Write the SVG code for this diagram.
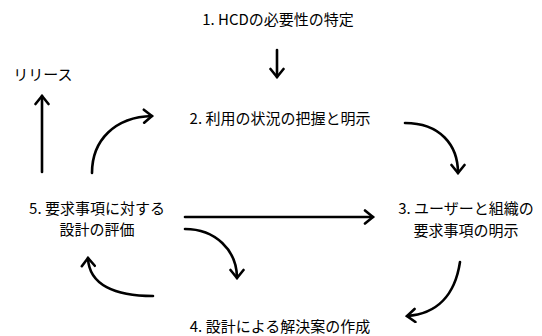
<svg xmlns="http://www.w3.org/2000/svg" width="542" height="336" viewBox="0 0 542 336">
<style>
text{font-family:"Noto Sans CJK JP","Noto Sans",sans-serif;font-size:15px;fill:#000;text-anchor:middle;dominant-baseline:central}
.c{fill:none;stroke:#000;stroke-width:2.6;stroke-linecap:round}
</style>
<defs>
<marker id="ah" viewBox="-10 -8 12 16" markerWidth="12" markerHeight="16" refX="0" refY="0" orient="auto" markerUnits="userSpaceOnUse">
<path d="M-8,-6.5 L0,0 L-8,6.5" fill="none" stroke="#000" stroke-width="2.6" stroke-linecap="round" stroke-linejoin="miter"/>
</marker>
</defs>
<rect width="542" height="336" fill="#fff"/>
<g id="n1"><text x="278" y="18">1. HCDの必要性の特定</text></g>
<g id="release"><text x="43" y="73">リリース</text></g>
<g id="n2"><text x="280" y="117">2. 利用の状況の把握と明示</text></g>
<g id="n3"><text x="466" y="207">3. ユーザーと組織の</text><text x="466" y="229">要求事項の明示</text></g>
<g id="n4"><text x="280" y="325">4. 設計による解決案の作成</text></g>
<g id="n5"><text x="97" y="207">5. 要求事項に対する</text><text x="97" y="228">設計の評価</text></g>
<g id="connectors">
<path class="c" d="M277,50 L277,77" marker-end="url(#ah)"/>
<path class="c" d="M42,172 L42,96" marker-end="url(#ah)"/>
<path class="c" d="M92,173 C92,140 115,117 152,116" marker-end="url(#ah)"/>
<path class="c" d="M405,123 C440,123 458,145 458,173" marker-end="url(#ah)"/>
<path class="c" d="M185,217 L373,217" marker-end="url(#ah)"/>
<path class="c" d="M185,229 C215,229 237,250 237,278" marker-end="url(#ah)"/>
<path class="c" d="M460,262 C455,295 437,314 407,316" marker-end="url(#ah)"/>
<path class="c" d="M153,296 C115,296 89,285 88,258" marker-end="url(#ah)"/>
</g>
</svg>
